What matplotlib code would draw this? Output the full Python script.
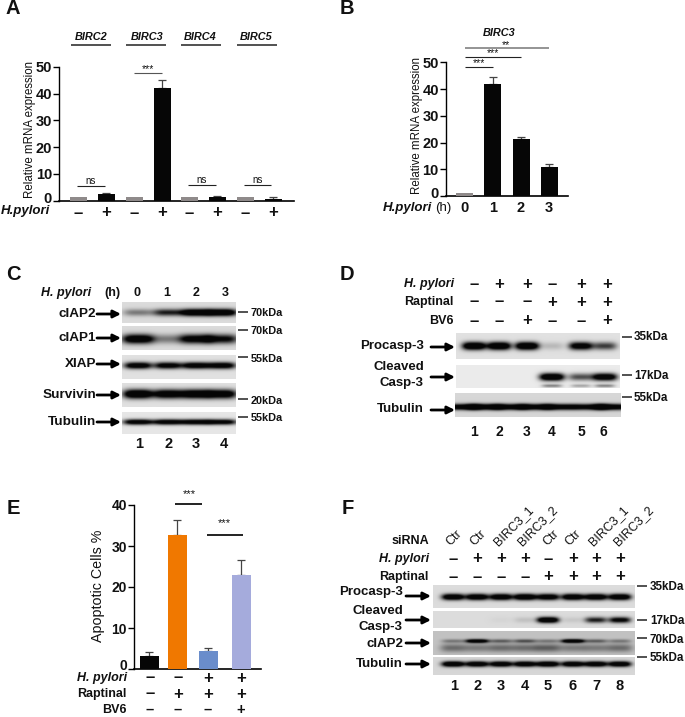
import numpy as np
import matplotlib
matplotlib.use("Agg")
import matplotlib.pyplot as plt
from matplotlib.transforms import ScaledTranslation

plt.rcParams['font.family'] = ['Liberation Sans', 'DejaVu Sans']

# ---- data ----
A_groups = ['BIRC2', 'BIRC3', 'BIRC4', 'BIRC5']
A_ctrl = [1.2, 1.2, 1.2, 1.2]
A_hp = [2.4, 42.3, 1.2, 0.6]
A_hp_err = [0.5, 3.0, 0.4, 0.6]
B_labels = ['0', '1', '2', '3']
B_vals = [1.0, 41.8, 21.5, 10.8]
B_errs = [0.0, 2.6, 0.6, 1.2]
E_vals = [3.2, 32.7, 4.3, 22.9]
E_errs = [1.0, 3.6, 0.9, 3.8]
E_hp = '--++'
E_rap = '-+++'
E_bv6 = '---+'
D_hp = '-++-++'
D_rap = '---+++'
D_bv6 = '--+--+'
F_sirna = ['Ctr', 'Ctr', 'BIRC3_1', 'BIRC3_2', 'Ctr', 'Ctr', 'BIRC3_1', 'BIRC3_2']
F_hp = '-+++-+++'
F_rap = '----++++'
C_hours = ['0', '1', '2', '3']
C_ciap2 = [0.3, 0.6, 1.0, 1.0]
C_ciap1 = [0.9, 0.3, 0.8, 0.7]
C_xiap = [0.85, 0.8, 0.85, 0.85]
C_surv = [1.0, 0.9, 0.95, 0.9]
C_tub = [0.85, 0.85, 0.85, 0.8]
D_pro = [1.0, 1.0, 1.0, 0.12, 0.85, 0.5]
D_cl = [0.0, 0.0, 0.0, 1.0, 0.45, 0.9]
D_cl_low = [0.0, 0.0, 0.0, 0.3, 0.2, 0.3]
D_tub = [0.9, 0.95, 0.9, 0.9, 0.9, 0.85, 0.95]
F_pro = [0.95, 0.95, 0.95, 1.0, 0.9, 0.95, 0.95, 0.95]
F_cl = [0.0, 0.0, 0.02, 0.08, 1.0, 0.06, 0.6, 0.75]
F_ciap2 = [0.25, 0.95, 0.35, 0.4, 0.25, 1.0, 0.35, 0.25]
F_ciap2_low = [0.3, 0.25, 0.3, 0.3, 0.35, 0.25, 0.25, 0.3]
F_tub = [1.0, 0.95, 0.95, 0.95, 1.0, 0.95, 0.95, 0.95]

W, H = 685, 717
fig = plt.figure(figsize=(W / 100, H / 100), dpi=100)
ov = fig.add_axes([0, 0, 1, 1], zorder=5)
ov.set_xlim(0, W)
ov.set_ylim(H, 0)
ov.axis('off')
ov.patch.set_alpha(0)


def T(x, y, s, size=9.5, weight='bold', ha='center', style='normal', rot=0, color='#111111'):
    ov.text(x, y, s, fontsize=size, fontweight=weight, ha=ha, va='center', style=style,
            rotation=rot, color=color, rotation_mode='anchor')


def L(x0, x1, y, lw=1.0, color='#222222'):
    ov.plot([x0, x1], [y, y], color=color, lw=lw, solid_capstyle='butt')


def signs(xs, y, s, size=12):
    for x, c in zip(xs, s):
        T(x, y, '+' if c == '+' else '\u2013', size=size)


def arrow(x0, x1, y):
    ov.annotate('', xy=(x1, y), xytext=(x0, y),
                arrowprops=dict(arrowstyle='-|>', color='k', lw=2.0, mutation_scale=11,
                                shrinkA=0, shrinkB=0))


def chart(x0, x1, ytop, ybot, ymax, xs_px, vals, errs, width_px, colors, lw=1.0,
          ticks=(0, 10, 20, 30, 40, 50), fs=10.5, zero_up=3):
    ax = fig.add_axes([x0 / W, 1 - ybot / H, (x1 - x0) / W, (ybot - ytop) / H], zorder=2)
    ax.set_xlim(x0, x1)
    ax.set_ylim(0, ymax)
    ax.bar(xs_px, vals, width=width_px, color=colors, zorder=3)
    for x, v, e in zip(xs_px, vals, errs):
        if e > 0:
            ax.errorbar([x], [v], yerr=[[0], [e]], ecolor='#444444', elinewidth=0.9, capsize=3,
                        capthick=0.9, fmt='none', zorder=2)
    for s in ('top', 'right'):
        ax.spines[s].set_visible(False)
    ax.spines['left'].set_linewidth(lw)
    ax.spines['bottom'].set_linewidth(lw + 0.2)
    ax.set_xticks([])
    ax.set_yticks(list(ticks))
    ax.tick_params(axis='y', length=4, width=lw, pad=1, labelsize=fs)
    labels = ax.get_yticklabels()
    for t in labels:
        t.set_fontweight('bold')
        t.set_color('#111111')
    labels[0].set_transform(labels[0].get_transform() +
                            ScaledTranslation(0, zero_up / 100, fig.dpi_scale_trans))
    ax.patch.set_alpha(0)
    return ax


def blot(x0, x1, y0, y1, lanes, layers, bg=0.86, gain=1.5):
    """layers: list of (intensities, y centre, half-width x, half-height y)."""
    nx, ny = int((x1 - x0) * 2), int((y1 - y0) * 2)
    xx, yy = np.meshgrid(np.linspace(x0, x1, nx), np.linspace(y0, y1, ny))
    dark = np.zeros_like(xx)
    for vals, yc, wx, wy in layers:
        for x, v in zip(lanes, vals):
            dark += v * np.exp(-np.abs((xx - x) / wx) ** 3.5) * np.exp(-((yy - yc) / wy) ** 2)
    img = bg * (1 - np.clip(gain * dark, 0, 0.97))
    ov.imshow(img, extent=(x0, x1, y1, y0), cmap='gray', vmin=0, vmax=1, aspect='auto',
              interpolation='bilinear', zorder=1)


# ---- Panel A ----
T(13, 9, 'A', size=14.5, ha='center')
A_x = [78, 106, 134, 162, 189, 217, 245, 273]
A_vals, A_errs, A_cols = [], [], []
for c, h, e in zip(A_ctrl, A_hp, A_hp_err):
    A_vals += [c, h]
    A_errs += [0, e]
    A_cols += ['#8f8a8a', '#060606']
chart(59, 294, 67, 200.5, 50, A_x, A_vals, A_errs, 17, A_cols)
T(30, 130, 'Relative mRNA expression', size=8.3, weight='normal', rot=90)
for name, xc, (a, b) in zip(A_groups, [91, 147, 200, 256], [(71, 111), (126, 166), (181, 221), (237, 277)]):
    T(xc, 37, name, size=7.8, style='italic')
    L(a, b, 44.7, lw=1.2, color='#333333')
for a, b, y in [(77, 105, 186), (188, 216, 185), (244, 271, 185)]:
    L(a, b, y, lw=0.8)
    T((a + b) / 2, y - 5, 'ns', size=7, weight='normal')
L(134, 162, 72.5, lw=0.8, color='#555555')
T(148, 69, '***', size=7.5, weight='normal')
T(25, 211, 'H.pylori', size=9.5, style='italic')
signs(A_x, 213, '-+-+-+-+')

# ---- Panel B ----
T(347, 8, 'B', size=14.5)
B_x = [465, 493, 521, 549]
chart(445.7, 567.7, 62.3, 196, 50, B_x, B_vals, B_errs, 17, ['#8f8a8a', '#060606', '#060606', '#060606'])
T(417, 126, 'Relative mRNA expression', size=8.3, weight='normal', rot=90)
T(499, 33, 'BIRC3', size=7.8, style='italic')
L(465, 549, 47.7, lw=1.1, color='#777777')
T(506, 45.5, '**', size=7.5, weight='normal')
L(465, 521, 57, lw=0.8)
T(493, 53, '***', size=7.5, weight='normal')
L(465, 493, 67, lw=0.8)
T(479, 63, '***', size=7.5, weight='normal')
T(383, 208, 'H.pylori', size=9.5, style='italic', ha='left')
T(451, 208, '(h)', size=9.5, weight='normal', ha='right')
for x, s in zip(B_x, B_labels):
    T(x, 208, s, size=10.5)

# ---- Panel C ----
T(13, 275, 'C', size=14.5)
T(41, 293, 'H. pylori', size=9, style='italic', ha='left')
T(112, 293, '(h)', size=9)
for x, s in zip([137, 167, 196, 225], C_hours):
    T(x, 293, s, size=9)
C_l = [138, 168, 196, 222]
blot(122, 236, 302, 323, C_l, [(C_ciap2, 312.5, 15, 3.6)], bg=0.86)
blot(122, 236, 326, 350, C_l, [(C_ciap1, 339, 16, 4.8)], bg=0.86)
blot(122, 236, 355, 379, C_l, [(C_xiap, 365.5, 14, 3.4)], bg=0.88)
blot(122, 236, 383, 407, C_l, [(C_surv, 394, 15, 4.6)], bg=0.88)
blot(122, 236, 412, 434, C_l, [(C_tub, 422, 15, 2.8)], bg=0.9)
for y, s in zip([314, 338, 364, 395, 422], ['cIAP2', 'cIAP1', 'XIAP', 'Survivin', 'Tubulin']):
    T(96, y, s, size=9.7, ha='right')
    arrow(97, 121, y)
for yd, yt, s in [(312, 313, '70kDa'), (330, 331, '70kDa'), (357, 359, '55kDa'), (399, 401, '20kDa'), (417, 418, '55kDa')]:
    L(238, 248, yd, lw=1.1)
    T(251, yt, s, size=7.8, ha='left')
for x, s in zip([139, 169, 196, 224], '1234'):
    T(x, 444, s, size=10.5)

# ---- Panel D ----
T(347, 275, 'D', size=14.5)
D_x = [474, 499, 527, 552, 581, 607]
T(454, 284, 'H. pylori', size=9, style='italic', ha='right')
T(454, 302, 'Raptinal', size=9, ha='right')
T(454, 321, 'BV6', size=9, ha='right')
signs(D_x, 284.5, D_hp)
signs(D_x, 302, D_rap)
signs(D_x, 321, D_bv6)
D_l = [474, 499, 527, 552, 581, 605]
blot(456, 620, 333, 359, D_l, [(D_pro, 346, 12, 4)], bg=0.88)
blot(456, 620, 365, 388, D_l, [(D_cl, 377, 12.5, 3.8), (D_cl_low, 386, 10, 1.6)], bg=0.92)
blot(455, 621, 393, 417, [462, 485, 510, 535, 560, 590, 612], [(D_tub, 407, 17, 3)], bg=0.84)
T(424, 346, 'Procasp-3', size=9.5, ha='right')
T(424, 367, 'Cleaved', size=9.5, ha='right')
T(424, 383, 'Casp-3', size=9.5, ha='right')
T(424, 409, 'Tubulin', size=9.5, ha='right')
arrow(431, 455, 347)
arrow(431, 455, 377)
arrow(431, 455, 410)
for yd, yt, s in [(337, 337, '35kDa'), (375, 376, '17kDa'), (397, 398, '55kDa')]:
    L(622, 632, yd, lw=1.1)
    T(634, yt, s, size=8.4, ha='left')
for x, s in zip([474, 499, 527, 552, 581, 603], '123456'):
    T(x, 432, s, size=10)

# ---- Panel E ----
T(13, 508, 'E', size=14.5)
E_x = [149, 177, 208, 241]
chart(134, 260.7, 505, 669, 40, E_x, E_vals, E_errs, 19, ['#060606', '#F07800', '#6A8DCB', '#A5ABDC'],
      ticks=(0, 10, 20, 30, 40), fs=10, zero_up=5)
T(98, 586, 'Apoptotic Cells %', size=10.3, weight='normal', rot=90)
L(175, 202, 504, lw=1.4)
T(189, 494, '***', size=8, weight='normal')
L(207, 243, 535, lw=1.4)
T(224, 523, '***', size=8, weight='normal')
E_l = [150, 178, 208, 241]
T(127, 678, 'H. pylori', size=9, style='italic', ha='right')
T(127, 694, 'Raptinal', size=9, ha='right')
T(127, 710, 'BV6', size=9, ha='right')
signs(E_l, 678, E_hp)
signs(E_l, 694, E_rap)
signs(E_l, 710, E_bv6, size=10.5)

# ---- Panel F ----
T(348, 508, 'F', size=14.5)
F_x = [453, 477, 501, 525, 548, 573, 596, 620]
T(429, 541, 'siRNA', size=9, ha='right')
T(429, 559, 'H. pylori', size=9, style='italic', ha='right')
T(429, 577, 'Raptinal', size=9, ha='right')
for x, s in zip([452, 476, 500, 524, 549, 571, 595, 620], F_sirna):
    ov.text(x, 548, s, fontsize=9, rotation=45, rotation_mode='anchor', ha='left', va='bottom',
            color='#111111')
signs(F_x, 559, F_hp)
signs(F_x, 577, F_rap)
blot(433, 635, 585, 608, F_x, [(F_pro, 597, 11.5, 3.2)], bg=0.86)
blot(433, 635, 611, 628, F_x, [(F_cl, 620, 11, 3)], bg=0.86)
blot(433, 635, 631, 655, F_x, [(F_ciap2, 641, 11.5, 1.9), (F_ciap2_low, 648, 13, 4.2)], bg=0.76)
blot(433, 635, 657, 675, F_x, [(F_tub, 664, 11.5, 2.8)], bg=0.84)
T(403, 592, 'Procasp-3', size=9.5, ha='right')
T(403, 611, 'Cleaved', size=9.5, ha='right')
T(403, 627, 'Casp-3', size=9.5, ha='right')
T(403, 644, 'cIAP2', size=9.5, ha='right')
T(403, 664, 'Tubulin', size=9.5, ha='right')
for y in (596, 620, 643, 664):
    arrow(406, 431, y)
for yd, yt, s in [(586, 587, '35kDa'), (620, 621, '17kDa'), (638, 640, '70kDa'), (657, 658, '55kDa')]:
    L(637, 647, yd, lw=1.1)
    T(650, yt, s, size=8.4, ha='left')
for x, s in zip([454, 478, 501, 525, 548, 573, 596, 620], '12345678'):
    T(x, 686, s, size=10.5)

ov.set_xlim(0, W)
ov.set_ylim(H, 0)
fig.savefig('out.png', dpi=100)
